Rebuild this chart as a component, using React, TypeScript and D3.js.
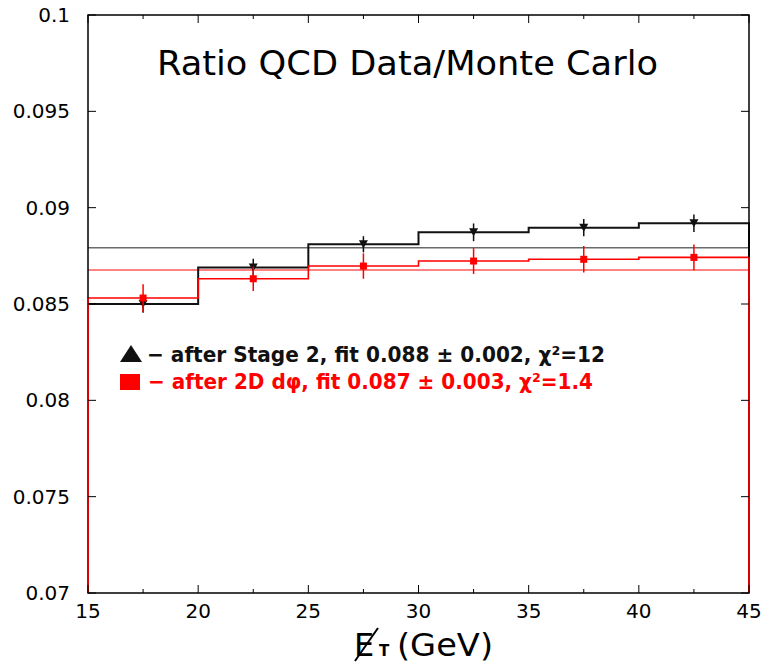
import React from "react";
import * as d3 from "d3";

const binEdges = [15, 20, 25, 30, 35, 40, 45];
const binCenters = [17.5, 22.5, 27.5, 32.5, 37.5, 42.5];
const blackValues = [0.0850, 0.0869, 0.0881, 0.08872, 0.08896, 0.08919];
const blackErrors = [0.00045, 0.00045, 0.00042, 0.00046, 0.00045, 0.00045];
const redValues = [0.08531, 0.08631, 0.08697, 0.08723, 0.08732, 0.08742];
const redErrors = [0.00072, 0.00064, 0.00066, 0.00067, 0.00069, 0.00067];
const blackFit = 0.08792;
const redFit = 0.08676;
const xTicks = [15, 20, 25, 30, 35, 40, 45];
const xMinorTicks = [17.5, 22.5, 27.5, 32.5, 37.5, 42.5];
const yTicks = [0.07, 0.075, 0.08, 0.085, 0.09, 0.095, 0.1];
const yTickLabels = ["0.07", "0.075", "0.08", "0.085", "0.09", "0.095", "0.1"];
const legendLabels = [
  "− after Stage 2, fit 0.088 ± 0.002, χ²=12",
  "− after 2D dφ, fit 0.087 ± 0.003, χ²=1.4",
];

const W = 767;
const H = 667;
const left = 88;
const right = 749;
const top = 15;
const bottom = 593;

export default function App() {
  const x = d3.scaleLinear().domain([15, 45]).range([left, right]);
  const y = d3.scaleLinear().domain([0.07, 0.1]).range([bottom, top]);

  const stepPath = (vals: number[]) => {
    const pts: [number, number][] = [[x(binEdges[0]), y(0.07)]];
    vals.forEach((v, i) => {
      pts.push([x(binEdges[i]), y(v)]);
      pts.push([x(binEdges[i + 1]), y(v)]);
    });
    pts.push([x(binEdges[binEdges.length - 1]), y(0.07)]);
    return d3.line()(pts) as string;
  };

  const gothic = "'DejaVu Sans', sans-serif";

  return (
    <svg width={W} height={H} style={{ position: "absolute", left: 0, top: 0, background: "#fff" }}>
      <rect x={0} y={0} width={W} height={H} fill="#fff" />
      {/* fit lines */}
      <line x1={x(15)} x2={x(45)} y1={y(blackFit)} y2={y(blackFit)} stroke="#6a6a6a" strokeWidth={1.5} />
      <line x1={x(15)} x2={x(45)} y1={y(redFit)} y2={y(redFit)} stroke="#ff5a5a" strokeWidth={1.5} />
      {/* histograms */}
      <path d={stepPath(blackValues)} fill="none" stroke="#111" strokeWidth={2} />
      <path d={stepPath(redValues)} fill="none" stroke="#ff0000" strokeWidth={1.6} />
      {/* black points */}
      {binCenters.map((c, i) => (
        <g key={"b" + i}>
          <line x1={x(c)} x2={x(c)} y1={y(blackValues[i] - blackErrors[i])} y2={y(blackValues[i] + blackErrors[i])} stroke="#111" strokeWidth={1.5} />
          <path
            d={`M${x(c) - 4.5},${y(blackValues[i]) - 4}L${x(c) + 4.5},${y(blackValues[i]) - 4}L${x(c)},${y(blackValues[i]) + 4}Z`}
            fill="#111"
          />
        </g>
      ))}
      {/* red points */}
      {binCenters.map((c, i) => (
        <g key={"r" + i}>
          <line x1={x(c)} x2={x(c)} y1={y(redValues[i] - redErrors[i])} y2={y(redValues[i] + redErrors[i])} stroke="#ff0000" strokeWidth={1.5} />
          <rect x={x(c) - 3.5} y={y(redValues[i]) - 3.5} width={7} height={7} fill="#ff0000" />
        </g>
      ))}
      {/* frame */}
      <rect x={left} y={top} width={right - left} height={bottom - top} fill="none" stroke="#000" strokeWidth={1.5} />
      <line x1={x(15)} x2={x(15)} y1={y(0.07)} y2={y(redValues[0])} stroke="#ff0000" strokeWidth={1.6} />
      <line x1={x(45)} x2={x(45)} y1={y(0.07)} y2={y(redValues[redValues.length - 1])} stroke="#ff0000" strokeWidth={1.6} />
      {/* x ticks */}
      {xTicks.map((t) => (
        <g key={"xt" + t}>
          <line x1={x(t)} x2={x(t)} y1={bottom} y2={bottom - 8} stroke="#000" strokeWidth={1} />
          <line x1={x(t)} x2={x(t)} y1={top} y2={top + 8} stroke="#000" strokeWidth={1} />
          <text x={x(t)} y={618} textAnchor="middle" fontFamily={gothic} fontSize={20} fill="#000">
            {t}
          </text>
        </g>
      ))}
      {xMinorTicks.map((t) => (
        <g key={"xm" + t}>
          <line x1={x(t)} x2={x(t)} y1={bottom} y2={bottom - 4} stroke="#000" strokeWidth={1} />
          <line x1={x(t)} x2={x(t)} y1={top} y2={top + 4} stroke="#000" strokeWidth={1} />
        </g>
      ))}
      {/* y ticks */}
      {yTicks.map((t, i) => (
        <g key={"yt" + i}>
          <line x1={left} x2={left + 8} y1={y(t)} y2={y(t)} stroke="#000" strokeWidth={1} />
          <line x1={right} x2={right - 8} y1={y(t)} y2={y(t)} stroke="#000" strokeWidth={1} />
          <text x={70} y={y(t) + 7} textAnchor="end" fontFamily={gothic} fontSize={20} fill="#000">
            {yTickLabels[i]}
          </text>
        </g>
      ))}
      {/* title */}
      <text x={157} y={75} fontFamily={gothic} fontSize={34} fill="#000" textLength={501} lengthAdjust="spacingAndGlyphs">
        Ratio QCD Data/Monte Carlo
      </text>
      {/* legend */}
      <path d="M120,362L131,345L142,362Z" fill="#111" />
      <text x={147} y={362} fontFamily={gothic} fontWeight="bold" fontSize={22} fill="#111" textLength={458} lengthAdjust="spacingAndGlyphs">
        {legendLabels[0]}
      </text>
      <rect x={120} y={374} width={20} height={16} fill="#ff0000" />
      <text x={148} y={389} fontFamily={gothic} fontWeight="bold" fontSize={22} fill="#ff0000" textLength={445} lengthAdjust="spacingAndGlyphs">
        {legendLabels[1]}
      </text>
      {/* x axis label */}
      <text x={354} y={656} fontFamily={gothic} fontSize={32} fill="#000">E</text>
      <line x1={355} y1={661} x2={378} y2={628} stroke="#000" strokeWidth={2} />
      <text x={379} y={656} fontFamily={gothic} fontWeight="bold" fontSize={15} fill="#000">T</text>
      <text x={397} y={656} fontFamily={gothic} fontSize={32} fill="#000" textLength={96} lengthAdjust="spacingAndGlyphs">(GeV)</text>
    </svg>
  );
}
